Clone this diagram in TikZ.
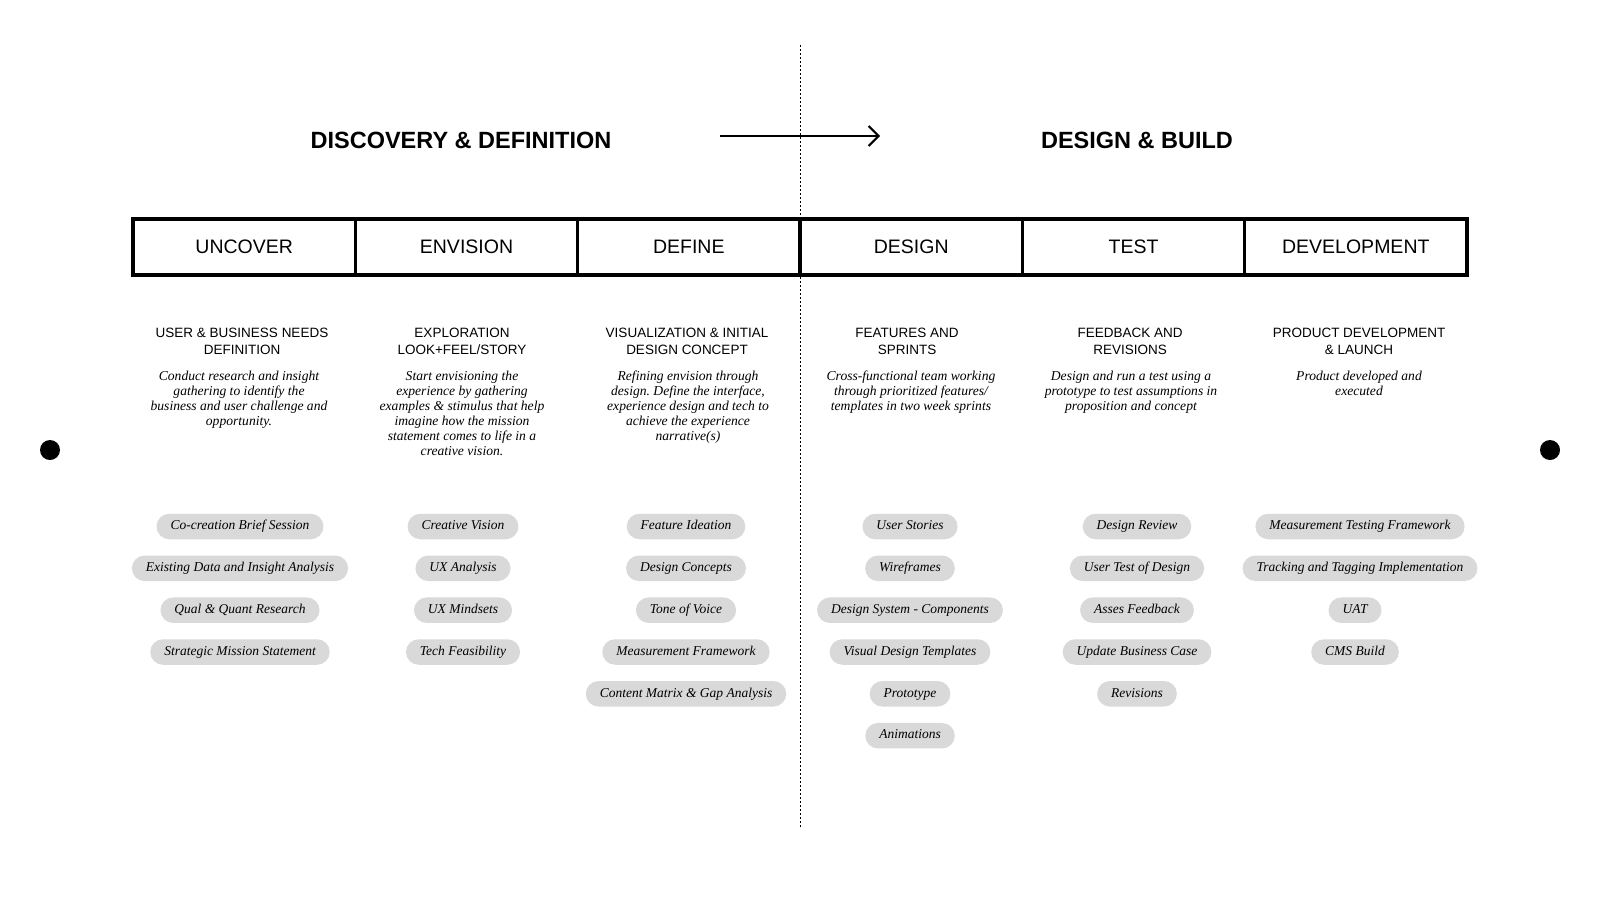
\documentclass[tikz,border=0pt]{standalone}
\usepackage{fontspec}
\setmainfont{Liberation Serif}
\setsansfont{Liberation Sans}
\usetikzlibrary{arrows.meta}
\definecolor{pillgray}{HTML}{D9D9D9}
\frenchspacing
\begin{document}
\begin{tikzpicture}[x=1pt,y=-1pt,
  titlestyle/.style={font=\sffamily\bfseries\fontsize{23.5}{28}\selectfont, inner sep=0pt},
  cellbox/.style={draw, line width=3.4pt, minimum width=222.33pt, minimum height=56.2pt, inner sep=0pt, outer sep=0pt, font=\sffamily\fontsize{19.5}{23}\selectfont},
  subhead/.style={font=\sffamily\fontsize{13.5}{16.4}\selectfont, align=center, anchor=north, inner sep=0pt},
  desctext/.style={font=\itshape\fontsize{13.6}{14.9}\selectfont, align=center, anchor=north, inner sep=0pt},
  pill/.style={fill=pillgray, rounded corners=12.75pt, minimum height=25.5pt, inner xsep=14pt, inner ysep=0pt, text height=9.5pt, text depth=3pt, font=\itshape\fontsize{13.5}{16}\selectfont},
  dotstyle/.style={circle, fill=black, minimum size=20pt, inner sep=0pt}
]
\useasboundingbox (0,0) rectangle (1600,900);
% dashed divider
\coordinate (dtop) at (800,45);
\coordinate (dbot) at (800,828);
\draw[line width=0.8pt, dash pattern=on 2pt off 2pt] (dtop) -- (dbot);
% titles and arrow
\node[titlestyle] (t1) at (461,140) {DISCOVERY \& DEFINITION};
\node[titlestyle] (t2) at (1137,140) {DESIGN \& BUILD};
\coordinate (arS) at (720,136);
\coordinate (arE) at (880,136);
\draw[line width=2pt, -{Straight Barb[length=10pt,width=20pt,line width=2pt]}] (arS) -- (arE);
% table cells
\node[cellbox] (c1) at (244.2,246.9) {UNCOVER};
\node[cellbox] (c2) at (466.5,246.9) {ENVISION};
\node[cellbox] (c3) at (688.8,246.9) {DEFINE};
\node[cellbox] (c4) at (911.2,246.9) {DESIGN};
\node[cellbox] (c5) at (1133.5,246.9) {TEST};
\node[cellbox] (c6) at (1355.8,246.9) {DEVELOPMENT};
% subheadings
\node[subhead] (s1) at (242,328) {USER \& BUSINESS NEEDS\\DEFINITION};
\node[subhead] (s2) at (462,328) {EXPLORATION\\LOOK+FEEL/STORY};
\node[subhead] (s3) at (687,328) {VISUALIZATION \& INITIAL\\DESIGN CONCEPT};
\node[subhead] (s4) at (907,328) {FEATURES AND\\SPRINTS};
\node[subhead] (s5) at (1130,328) {FEEDBACK AND\\REVISIONS};
\node[subhead] (s6) at (1359,328) {PRODUCT DEVELOPMENT\\\& LAUNCH};
% descriptions
\node[desctext] (d1) at (239,371) {Conduct research and insight\\gathering to identify the\\business and user challenge and\\opportunity.};
\node[desctext] (d2) at (462,371) {Start envisioning the\\experience by gathering\\examples \& stimulus that help\\imagine how the mission\\statement comes to life in a\\creative vision.};
\node[desctext] (d3) at (688,371) {Refining envision through\\design. Define the interface,\\experience design and tech to\\achieve the experience\\narrative(s)};
\node[desctext] (d4) at (911,371) {Cross-functional team working\\through prioritized features/\\templates in two week sprints};
\node[desctext] (d5) at (1131,371) {Design and run a test using a\\prototype to test assumptions in\\proposition and concept};
\node[desctext] (d6) at (1359,371) {Product developed and\\executed};
% side dots
\node[dotstyle] (dotL) at (50,450) {};
\node[dotstyle] (dotR) at (1550,450) {};
% pills column 1
\node[pill] (p1a) at (240,526.5) {Co-creation Brief Session};
\node[pill] (p1b) at (240,568.3) {Existing Data and Insight Analysis};
\node[pill] (p1c) at (240,610.2) {Qual \& Quant Research};
\node[pill] (p1d) at (240,652) {Strategic Mission Statement};
% column 2
\node[pill] (p2a) at (463,526.5) {Creative Vision};
\node[pill] (p2b) at (463,568.3) {UX Analysis};
\node[pill] (p2c) at (463,610.2) {UX Mindsets};
\node[pill] (p2d) at (463,652) {Tech Feasibility};
% column 3
\node[pill] (p3a) at (686,526.5) {Feature Ideation};
\node[pill] (p3b) at (686,568.3) {Design Concepts};
\node[pill] (p3c) at (686,610.2) {Tone of Voice};
\node[pill] (p3d) at (686,652) {Measurement Framework};
\node[pill] (p3e) at (686,693.8) {Content Matrix \& Gap Analysis};
% column 4
\node[pill] (p4a) at (910,526.5) {User Stories};
\node[pill] (p4b) at (910,568.3) {Wireframes};
\node[pill] (p4c) at (910,610.2) {Design System - Components};
\node[pill] (p4d) at (910,652) {Visual Design Templates};
\node[pill] (p4e) at (910,693.8) {Prototype};
\node[pill] (p4f) at (910,735.7) {Animations};
% column 5
\node[pill] (p5a) at (1137,526.5) {Design Review};
\node[pill] (p5b) at (1137,568.3) {User Test of Design};
\node[pill] (p5c) at (1137,610.2) {Asses Feedback};
\node[pill] (p5d) at (1137,652) {Update Business Case};
\node[pill] (p5e) at (1137,693.8) {Revisions};
% column 6
\node[pill] (p6a) at (1360,526.5) {Measurement Testing Framework};
\node[pill] (p6b) at (1360,568.3) {Tracking and Tagging Implementation};
\node[pill] (p6c) at (1355,610.2) {UAT};
\node[pill] (p6d) at (1355,652) {CMS Build};
\end{tikzpicture}
\end{document}
